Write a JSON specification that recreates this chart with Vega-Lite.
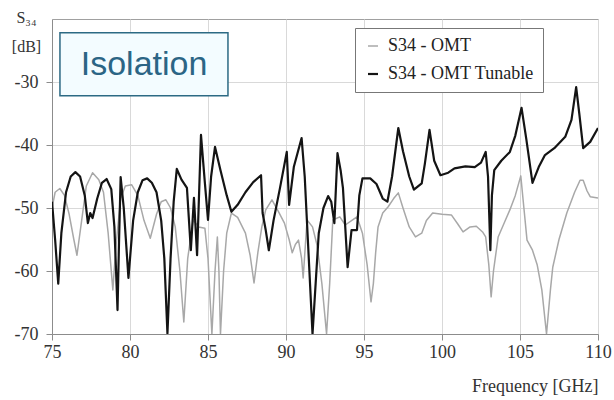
{
  "$schema": "https://vega.github.io/schema/vega-lite/v6.json",
  "width": 546,
  "height": 315,
  "autosize": {"type": "none"},
  "padding": {"left": 52, "top": 19, "right": 16, "bottom": 66},
  "background": "white",
  "config": {
    "view": {"stroke": "#a0a0a0", "strokeWidth": 1},
    "font": "Liberation Serif, Times New Roman, serif",
    "axis": {
      "labelFont": "Liberation Serif, Times New Roman, serif",
      "titleFont": "Liberation Serif, Times New Roman, serif",
      "labelColor": "#333333",
      "titleColor": "#333333",
      "labelFontSize": 18,
      "titleFontWeight": "normal",
      "gridColor": "#d9d9d9",
      "gridWidth": 1,
      "domainColor": "#8c8c8c",
      "tickColor": "#8c8c8c",
      "tickSize": 6
    },
    "legend": {
      "labelFont": "Liberation Serif, Times New Roman, serif"
    }
  },
  "datasets": {
    "curves": [
      {"f": 75.0, "db": -50, "s": "S34 - OMT"},
      {"f": 75.2, "db": -47.5, "s": "S34 - OMT"},
      {"f": 75.5, "db": -46.9, "s": "S34 - OMT"},
      {"f": 75.8, "db": -48, "s": "S34 - OMT"},
      {"f": 76.1, "db": -51, "s": "S34 - OMT"},
      {"f": 76.4, "db": -55, "s": "S34 - OMT"},
      {"f": 76.6, "db": -57.5, "s": "S34 - OMT"},
      {"f": 76.9, "db": -52, "s": "S34 - OMT"},
      {"f": 77.2, "db": -46.5, "s": "S34 - OMT"},
      {"f": 77.6, "db": -44.4, "s": "S34 - OMT"},
      {"f": 78.0, "db": -45.5, "s": "S34 - OMT"},
      {"f": 78.3, "db": -47.5, "s": "S34 - OMT"},
      {"f": 78.6, "db": -54, "s": "S34 - OMT"},
      {"f": 78.9, "db": -63.0, "s": "S34 - OMT"},
      {"f": 79.1, "db": -56, "s": "S34 - OMT"},
      {"f": 79.4, "db": -48.5, "s": "S34 - OMT"},
      {"f": 79.7, "db": -46.5, "s": "S34 - OMT"},
      {"f": 80.1, "db": -46.3, "s": "S34 - OMT"},
      {"f": 80.5, "db": -48, "s": "S34 - OMT"},
      {"f": 80.9, "db": -52, "s": "S34 - OMT"},
      {"f": 81.3, "db": -54.8, "s": "S34 - OMT"},
      {"f": 81.7, "db": -51, "s": "S34 - OMT"},
      {"f": 82.0, "db": -49, "s": "S34 - OMT"},
      {"f": 82.3, "db": -48.7, "s": "S34 - OMT"},
      {"f": 82.6, "db": -50, "s": "S34 - OMT"},
      {"f": 82.9, "db": -53, "s": "S34 - OMT"},
      {"f": 83.2, "db": -60, "s": "S34 - OMT"},
      {"f": 83.45, "db": -68.1, "s": "S34 - OMT"},
      {"f": 83.7, "db": -58, "s": "S34 - OMT"},
      {"f": 84.05, "db": -51.9, "s": "S34 - OMT"},
      {"f": 84.4, "db": -53, "s": "S34 - OMT"},
      {"f": 84.8, "db": -53.2, "s": "S34 - OMT"},
      {"f": 85.0, "db": -58, "s": "S34 - OMT"},
      {"f": 85.25, "db": -70, "s": "S34 - OMT"},
      {"f": 85.45, "db": -60, "s": "S34 - OMT"},
      {"f": 85.6, "db": -54.6, "s": "S34 - OMT"},
      {"f": 85.7, "db": -60, "s": "S34 - OMT"},
      {"f": 85.8, "db": -70, "s": "S34 - OMT"},
      {"f": 86.0, "db": -60, "s": "S34 - OMT"},
      {"f": 86.2, "db": -54, "s": "S34 - OMT"},
      {"f": 86.5, "db": -50.8, "s": "S34 - OMT"},
      {"f": 86.9, "db": -51.5, "s": "S34 - OMT"},
      {"f": 87.4, "db": -54, "s": "S34 - OMT"},
      {"f": 87.7, "db": -57.5, "s": "S34 - OMT"},
      {"f": 87.95, "db": -61.9, "s": "S34 - OMT"},
      {"f": 88.2, "db": -57, "s": "S34 - OMT"},
      {"f": 88.45, "db": -53, "s": "S34 - OMT"},
      {"f": 88.7, "db": -50.3, "s": "S34 - OMT"},
      {"f": 89.1, "db": -48.7, "s": "S34 - OMT"},
      {"f": 89.5, "db": -50.5, "s": "S34 - OMT"},
      {"f": 89.9, "db": -52.4, "s": "S34 - OMT"},
      {"f": 90.2, "db": -55, "s": "S34 - OMT"},
      {"f": 90.4, "db": -57.1, "s": "S34 - OMT"},
      {"f": 90.6, "db": -55.8, "s": "S34 - OMT"},
      {"f": 90.8, "db": -55.1, "s": "S34 - OMT"},
      {"f": 91.0, "db": -58, "s": "S34 - OMT"},
      {"f": 91.1, "db": -61.1, "s": "S34 - OMT"},
      {"f": 91.35, "db": -51.9, "s": "S34 - OMT"},
      {"f": 91.7, "db": -53, "s": "S34 - OMT"},
      {"f": 92.0, "db": -56, "s": "S34 - OMT"},
      {"f": 92.3, "db": -62, "s": "S34 - OMT"},
      {"f": 92.6, "db": -70, "s": "S34 - OMT"},
      {"f": 92.8, "db": -62, "s": "S34 - OMT"},
      {"f": 93.0, "db": -51.9, "s": "S34 - OMT"},
      {"f": 93.45, "db": -51.4, "s": "S34 - OMT"},
      {"f": 93.8, "db": -52.7, "s": "S34 - OMT"},
      {"f": 94.2, "db": -52, "s": "S34 - OMT"},
      {"f": 94.55, "db": -51.4, "s": "S34 - OMT"},
      {"f": 94.9, "db": -54, "s": "S34 - OMT"},
      {"f": 95.2, "db": -59, "s": "S34 - OMT"},
      {"f": 95.45, "db": -64.9, "s": "S34 - OMT"},
      {"f": 95.6, "db": -62, "s": "S34 - OMT"},
      {"f": 95.75, "db": -57, "s": "S34 - OMT"},
      {"f": 95.9, "db": -53, "s": "S34 - OMT"},
      {"f": 96.2, "db": -50.8, "s": "S34 - OMT"},
      {"f": 96.55, "db": -49.8, "s": "S34 - OMT"},
      {"f": 96.9, "db": -48.5, "s": "S34 - OMT"},
      {"f": 97.2, "db": -47.6, "s": "S34 - OMT"},
      {"f": 97.5, "db": -50, "s": "S34 - OMT"},
      {"f": 97.9, "db": -53, "s": "S34 - OMT"},
      {"f": 98.3, "db": -54.6, "s": "S34 - OMT"},
      {"f": 98.7, "db": -54.0, "s": "S34 - OMT"},
      {"f": 99.0, "db": -52, "s": "S34 - OMT"},
      {"f": 99.4, "db": -50.8, "s": "S34 - OMT"},
      {"f": 100.0, "db": -51, "s": "S34 - OMT"},
      {"f": 100.6, "db": -51.1, "s": "S34 - OMT"},
      {"f": 101.0, "db": -52.5, "s": "S34 - OMT"},
      {"f": 101.35, "db": -53.8, "s": "S34 - OMT"},
      {"f": 101.8, "db": -53, "s": "S34 - OMT"},
      {"f": 102.2, "db": -52.9, "s": "S34 - OMT"},
      {"f": 102.6, "db": -53.8, "s": "S34 - OMT"},
      {"f": 102.8, "db": -54.6, "s": "S34 - OMT"},
      {"f": 103.0, "db": -59, "s": "S34 - OMT"},
      {"f": 103.15, "db": -64.1, "s": "S34 - OMT"},
      {"f": 103.3, "db": -60, "s": "S34 - OMT"},
      {"f": 103.6, "db": -54.6, "s": "S34 - OMT"},
      {"f": 104.0, "db": -52.3, "s": "S34 - OMT"},
      {"f": 104.35, "db": -50.3, "s": "S34 - OMT"},
      {"f": 104.7, "db": -48, "s": "S34 - OMT"},
      {"f": 105.05, "db": -44.9, "s": "S34 - OMT"},
      {"f": 105.25, "db": -50, "s": "S34 - OMT"},
      {"f": 105.45, "db": -55.1, "s": "S34 - OMT"},
      {"f": 105.8, "db": -56.7, "s": "S34 - OMT"},
      {"f": 106.1, "db": -59, "s": "S34 - OMT"},
      {"f": 106.4, "db": -63, "s": "S34 - OMT"},
      {"f": 106.7, "db": -70, "s": "S34 - OMT"},
      {"f": 106.95, "db": -63, "s": "S34 - OMT"},
      {"f": 107.1, "db": -59.4, "s": "S34 - OMT"},
      {"f": 107.5, "db": -55, "s": "S34 - OMT"},
      {"f": 108.0, "db": -50.8, "s": "S34 - OMT"},
      {"f": 108.5, "db": -47.5, "s": "S34 - OMT"},
      {"f": 108.85, "db": -45.6, "s": "S34 - OMT"},
      {"f": 109.05, "db": -45.6, "s": "S34 - OMT"},
      {"f": 109.3, "db": -47.3, "s": "S34 - OMT"},
      {"f": 109.5, "db": -48.2, "s": "S34 - OMT"},
      {"f": 110.0, "db": -48.4, "s": "S34 - OMT"},

      {"f": 75.0, "db": -49, "s": "S34 - OMT Tunable"},
      {"f": 75.2, "db": -55, "s": "S34 - OMT Tunable"},
      {"f": 75.4, "db": -62, "s": "S34 - OMT Tunable"},
      {"f": 75.6, "db": -54, "s": "S34 - OMT Tunable"},
      {"f": 75.9, "db": -47.5, "s": "S34 - OMT Tunable"},
      {"f": 76.2, "db": -45, "s": "S34 - OMT Tunable"},
      {"f": 76.5, "db": -44.3, "s": "S34 - OMT Tunable"},
      {"f": 76.8, "db": -45, "s": "S34 - OMT Tunable"},
      {"f": 77.1, "db": -48, "s": "S34 - OMT Tunable"},
      {"f": 77.3, "db": -52.4, "s": "S34 - OMT Tunable"},
      {"f": 77.45, "db": -50.8, "s": "S34 - OMT Tunable"},
      {"f": 77.6, "db": -51.6, "s": "S34 - OMT Tunable"},
      {"f": 77.9, "db": -48.5, "s": "S34 - OMT Tunable"},
      {"f": 78.2, "db": -46, "s": "S34 - OMT Tunable"},
      {"f": 78.5, "db": -45.4, "s": "S34 - OMT Tunable"},
      {"f": 78.8, "db": -47, "s": "S34 - OMT Tunable"},
      {"f": 79.0, "db": -53, "s": "S34 - OMT Tunable"},
      {"f": 79.2, "db": -66.2, "s": "S34 - OMT Tunable"},
      {"f": 79.3, "db": -55, "s": "S34 - OMT Tunable"},
      {"f": 79.4, "db": -45.1, "s": "S34 - OMT Tunable"},
      {"f": 79.6, "db": -50, "s": "S34 - OMT Tunable"},
      {"f": 79.9, "db": -61.1, "s": "S34 - OMT Tunable"},
      {"f": 80.2, "db": -52, "s": "S34 - OMT Tunable"},
      {"f": 80.5, "db": -47.5, "s": "S34 - OMT Tunable"},
      {"f": 80.8, "db": -45.6, "s": "S34 - OMT Tunable"},
      {"f": 81.1, "db": -45.3, "s": "S34 - OMT Tunable"},
      {"f": 81.4, "db": -46, "s": "S34 - OMT Tunable"},
      {"f": 81.7, "db": -47.5, "s": "S34 - OMT Tunable"},
      {"f": 82.0, "db": -52, "s": "S34 - OMT Tunable"},
      {"f": 82.2, "db": -58, "s": "S34 - OMT Tunable"},
      {"f": 82.4, "db": -69.9, "s": "S34 - OMT Tunable"},
      {"f": 82.6, "db": -58, "s": "S34 - OMT Tunable"},
      {"f": 82.8, "db": -49, "s": "S34 - OMT Tunable"},
      {"f": 83.0, "db": -43.8, "s": "S34 - OMT Tunable"},
      {"f": 83.3, "db": -45.5, "s": "S34 - OMT Tunable"},
      {"f": 83.65, "db": -46.8, "s": "S34 - OMT Tunable"},
      {"f": 83.9, "db": -56.7, "s": "S34 - OMT Tunable"},
      {"f": 84.1, "db": -48.4, "s": "S34 - OMT Tunable"},
      {"f": 84.3, "db": -57.5, "s": "S34 - OMT Tunable"},
      {"f": 84.55, "db": -38.4, "s": "S34 - OMT Tunable"},
      {"f": 84.8, "db": -46, "s": "S34 - OMT Tunable"},
      {"f": 85.0, "db": -51.9, "s": "S34 - OMT Tunable"},
      {"f": 85.2, "db": -45, "s": "S34 - OMT Tunable"},
      {"f": 85.45, "db": -40.3, "s": "S34 - OMT Tunable"},
      {"f": 85.8, "db": -44, "s": "S34 - OMT Tunable"},
      {"f": 86.2, "db": -48, "s": "S34 - OMT Tunable"},
      {"f": 86.5, "db": -50.6, "s": "S34 - OMT Tunable"},
      {"f": 86.9, "db": -49.5, "s": "S34 - OMT Tunable"},
      {"f": 87.4, "db": -47.5, "s": "S34 - OMT Tunable"},
      {"f": 87.9, "db": -45.9, "s": "S34 - OMT Tunable"},
      {"f": 88.4, "db": -44.8, "s": "S34 - OMT Tunable"},
      {"f": 88.5, "db": -50.8, "s": "S34 - OMT Tunable"},
      {"f": 88.7, "db": -53.5, "s": "S34 - OMT Tunable"},
      {"f": 88.9, "db": -56.7, "s": "S34 - OMT Tunable"},
      {"f": 89.2, "db": -52, "s": "S34 - OMT Tunable"},
      {"f": 89.6, "db": -47, "s": "S34 - OMT Tunable"},
      {"f": 90.05, "db": -41.1, "s": "S34 - OMT Tunable"},
      {"f": 90.2, "db": -49.5, "s": "S34 - OMT Tunable"},
      {"f": 90.5, "db": -43.5, "s": "S34 - OMT Tunable"},
      {"f": 91.0, "db": -38.9, "s": "S34 - OMT Tunable"},
      {"f": 91.2, "db": -45, "s": "S34 - OMT Tunable"},
      {"f": 91.4, "db": -55, "s": "S34 - OMT Tunable"},
      {"f": 91.6, "db": -65, "s": "S34 - OMT Tunable"},
      {"f": 91.7, "db": -70, "s": "S34 - OMT Tunable"},
      {"f": 91.9, "db": -62, "s": "S34 - OMT Tunable"},
      {"f": 92.1, "db": -54, "s": "S34 - OMT Tunable"},
      {"f": 92.4, "db": -50, "s": "S34 - OMT Tunable"},
      {"f": 92.7, "db": -48.1, "s": "S34 - OMT Tunable"},
      {"f": 92.9, "db": -49, "s": "S34 - OMT Tunable"},
      {"f": 93.1, "db": -52.4, "s": "S34 - OMT Tunable"},
      {"f": 93.3, "db": -41.3, "s": "S34 - OMT Tunable"},
      {"f": 93.5, "db": -44, "s": "S34 - OMT Tunable"},
      {"f": 93.65, "db": -46.8, "s": "S34 - OMT Tunable"},
      {"f": 93.95, "db": -59.4, "s": "S34 - OMT Tunable"},
      {"f": 94.2, "db": -53.5, "s": "S34 - OMT Tunable"},
      {"f": 94.55, "db": -53.5, "s": "S34 - OMT Tunable"},
      {"f": 94.7, "db": -48, "s": "S34 - OMT Tunable"},
      {"f": 94.9, "db": -45.3, "s": "S34 - OMT Tunable"},
      {"f": 95.4, "db": -45.3, "s": "S34 - OMT Tunable"},
      {"f": 95.8, "db": -46.2, "s": "S34 - OMT Tunable"},
      {"f": 96.2, "db": -48.5, "s": "S34 - OMT Tunable"},
      {"f": 96.5, "db": -49.0, "s": "S34 - OMT Tunable"},
      {"f": 96.8, "db": -45, "s": "S34 - OMT Tunable"},
      {"f": 97.2, "db": -37.3, "s": "S34 - OMT Tunable"},
      {"f": 97.5, "db": -41, "s": "S34 - OMT Tunable"},
      {"f": 97.9, "db": -45, "s": "S34 - OMT Tunable"},
      {"f": 98.2, "db": -47.1, "s": "S34 - OMT Tunable"},
      {"f": 98.7, "db": -46.1, "s": "S34 - OMT Tunable"},
      {"f": 98.9, "db": -43, "s": "S34 - OMT Tunable"},
      {"f": 99.2, "db": -37.6, "s": "S34 - OMT Tunable"},
      {"f": 99.5, "db": -42.5, "s": "S34 - OMT Tunable"},
      {"f": 99.9, "db": -44.8, "s": "S34 - OMT Tunable"},
      {"f": 100.4, "db": -44.4, "s": "S34 - OMT Tunable"},
      {"f": 100.8, "db": -43.7, "s": "S34 - OMT Tunable"},
      {"f": 101.5, "db": -43.4, "s": "S34 - OMT Tunable"},
      {"f": 102.1, "db": -43.5, "s": "S34 - OMT Tunable"},
      {"f": 102.5, "db": -42.8, "s": "S34 - OMT Tunable"},
      {"f": 102.8, "db": -41.1, "s": "S34 - OMT Tunable"},
      {"f": 102.95, "db": -45, "s": "S34 - OMT Tunable"},
      {"f": 103.1, "db": -56.7, "s": "S34 - OMT Tunable"},
      {"f": 103.2, "db": -48, "s": "S34 - OMT Tunable"},
      {"f": 103.35, "db": -44, "s": "S34 - OMT Tunable"},
      {"f": 103.8, "db": -42.5, "s": "S34 - OMT Tunable"},
      {"f": 104.35, "db": -41.1, "s": "S34 - OMT Tunable"},
      {"f": 104.7, "db": -38.5, "s": "S34 - OMT Tunable"},
      {"f": 105.1, "db": -34.1, "s": "S34 - OMT Tunable"},
      {"f": 105.4, "db": -39, "s": "S34 - OMT Tunable"},
      {"f": 105.8, "db": -46.0, "s": "S34 - OMT Tunable"},
      {"f": 106.2, "db": -43.5, "s": "S34 - OMT Tunable"},
      {"f": 106.6, "db": -41.6, "s": "S34 - OMT Tunable"},
      {"f": 107.2, "db": -40.5, "s": "S34 - OMT Tunable"},
      {"f": 107.9, "db": -38.7, "s": "S34 - OMT Tunable"},
      {"f": 108.3, "db": -36, "s": "S34 - OMT Tunable"},
      {"f": 108.6, "db": -30.8, "s": "S34 - OMT Tunable"},
      {"f": 108.8, "db": -35, "s": "S34 - OMT Tunable"},
      {"f": 109.05, "db": -40.5, "s": "S34 - OMT Tunable"},
      {"f": 109.5, "db": -39.5, "s": "S34 - OMT Tunable"},
      {"f": 110.0, "db": -37.3, "s": "S34 - OMT Tunable"}
    ]
  },
  "layer": [
    {
      "data": {"name": "curves"},
      "mark": {"type": "line", "clip": true, "strokeJoin": "round"},
      "encoding": {
        "x": {
          "field": "f",
          "type": "quantitative",
          "scale": {"domain": [75, 110], "nice": false, "zero": false},
          "axis": {
            "values": [75, 80, 85, 90, 95, 100, 105, 110],
            "labelFont": "Liberation Serif, Times New Roman, serif",
            "titleFont": "Liberation Serif, Times New Roman, serif",
            "title": "Frequency [GHz]",
            "titleFontSize": 18,
            "titleAnchor": "end",
            "titleAlign": "right",
            "titleBaseline": "alphabetic",
            "titleX": 546,
            "titleY": 57,
            "labelPadding": 3,
            "labelFlush": false
          }
        },
        "y": {
          "field": "db",
          "type": "quantitative",
          "scale": {"domain": [-70, -20], "nice": false, "zero": false},
          "axis": {
            "values": [-70, -60, -50, -40, -30],
            "labelExpr": "'' + datum.value",
            "labelFont": "Liberation Serif, Times New Roman, serif",
            "titleFont": "Liberation Serif, Times New Roman, serif",
            "title": ["S₃₄", "[dB]"],
            "titleFontSize": 16,
            "titleAngle": 0,
            "titleAlign": "center",
            "titleBaseline": "alphabetic",
            "titleLineHeight": 29,
            "titleX": -26,
            "titleY": 3,
            "labelPadding": 8,
            "labelFlush": false
          }
        },
        "color": {
          "field": "s",
          "type": "nominal",
          "scale": {"domain": ["S34 - OMT", "S34 - OMT Tunable"], "range": ["#a8a8a8", "#141414"]},
          "legend": {
            "title": null,
            "orient": "none",
            "legendX": 303,
            "legendY": 9,
            "direction": "vertical",
            "symbolType": "stroke",
            "symbolSize": 100,
            "symbolStrokeWidth": 2,
            "labelFont": "Liberation Serif, Times New Roman, serif",
            "labelFontSize": 18,
            "labelColor": "#222222",
            "labelOffset": 6,
            "rowPadding": 10,
            "padding": 9,
            "strokeColor": "#777777",
            "fillColor": "white",
            "labelLimit": 300
          }
        },
        "strokeWidth": {
          "field": "s",
          "type": "nominal",
          "scale": {"domain": ["S34 - OMT", "S34 - OMT Tunable"], "range": [1.5, 2.2]},
          "legend": null
        }
      }
    },
    {
      "data": {"values": [{}]},
      "mark": {"type": "rect", "fill": "#f3fcff", "stroke": "#2c6a84", "strokeWidth": 1.5},
      "encoding": {
        "x": {"datum": 75.51},
        "x2": {"datum": 86.28},
        "y": {"datum": -22.2},
        "y2": {"datum": -32.2}
      }
    },
    {
      "data": {"values": [{}]},
      "mark": {"type": "text", "text": "Isolation", "font": "Liberation Sans, Arial, sans-serif", "fontSize": 34, "color": "#2b6585", "align": "center", "baseline": "middle"},
      "encoding": {
        "x": {"datum": 80.9},
        "y": {"datum": -27.3}
      }
    }
  ]
}
